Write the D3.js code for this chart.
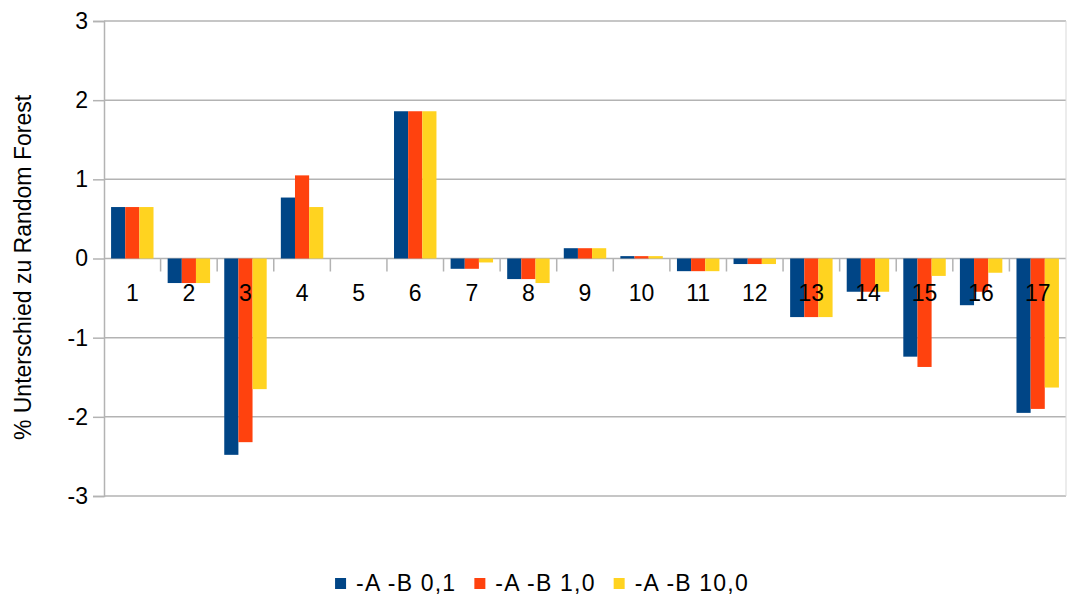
<!DOCTYPE html>
<html>
<head>
<meta charset="utf-8">
<script src="https://cdn.jsdelivr.net/npm/d3@7"></script>
<style>
  html, body { margin: 0; padding: 0; background: #fff; }
  svg { display: block; font-family: "Liberation Sans", Arial, sans-serif; }
</style>
</head>
<body>
<svg id="chart" width="1071" height="599"></svg>
<script>
// Bar groups 1..17 and the three parameter settings
const categories = ["1","2","3","4","5","6","7","8","9","10","11","12","13","14","15","16","17"];
const seriesNames = ["-A -B 0,1", "-A -B 1,0", "-A -B 10,0"];
const seriesColors = ["#004586", "#ff420e", "#ffd320"];
const valuesB01  = [0.65, -0.31, -2.48, 0.77, 0, 1.86, -0.13, -0.26, 0.13, 0.03, -0.16, -0.07, -0.74, -0.42, -1.24, -0.59, -1.95];
const valuesB10  = [0.65, -0.31, -2.32, 1.05, 0, 1.86, -0.13, -0.26, 0.13, 0.03, -0.16, -0.07, -0.74, -0.42, -1.37, -0.42, -1.90];
const valuesB100 = [0.65, -0.31, -1.65, 0.65, 0, 1.86, -0.05, -0.31, 0.13, 0.03, -0.16, -0.07, -0.74, -0.42, -0.22, -0.18, -1.63];
const yTicks = [-3, -2, -1, 0, 1, 2, 3];
const yTickLabels = ["-3", "-2", "-1", "0", "1", "2", "3"];
const yTitle = "% Unterschied zu Random Forest";

const series = [valuesB01, valuesB10, valuesB100];

const svg = d3.select("#chart");
const plotLeft = 104, plotRight = 1066, plotTop = 21, plotBottom = 496;

const y = d3.scaleLinear().domain([-3, 3]).range([plotBottom, plotTop]);
const x = d3.scaleBand().domain(categories).range([plotLeft, plotRight]).paddingInner(0.25).paddingOuter(0.125);
const xs = d3.scaleBand().domain(d3.range(series.length)).range([0, x.bandwidth()]);
const xGroup = d3.scaleBand().domain(categories).range([plotLeft, plotRight]);

const gridColor = "#b3b3b3";

// horizontal gridlines
svg.append("g")
  .selectAll("line")
  .data(yTicks)
  .join("line")
  .attr("x1", plotLeft).attr("x2", plotRight)
  .attr("y1", d => y(d)).attr("y2", d => y(d))
  .attr("stroke", gridColor).attr("stroke-width", 1.5);

// right border of the plot area
svg.append("line")
  .attr("x1", plotRight).attr("x2", plotRight).attr("y1", plotTop).attr("y2", plotBottom)
  .attr("stroke", "#d9d9d9").attr("stroke-width", 1);

// y axis
const yAxis = d3.axisLeft(y)
  .tickValues(yTicks)
  .tickSize(11)
  .tickPadding(5)
  .tickFormat((d, i) => yTickLabels[i]);
const gy = svg.append("g").attr("transform", `translate(${plotLeft},0)`).call(yAxis);
gy.select(".domain").attr("stroke", gridColor).attr("stroke-width", 1.5);
gy.selectAll(".tick line").attr("stroke", gridColor).attr("stroke-width", 1.5);
gy.selectAll(".tick text")
  .attr("font-family", "Liberation Sans, Arial, sans-serif")
  .attr("font-size", 23).attr("fill", "#000");

// bars
const groups = svg.append("g")
  .selectAll("g")
  .data(categories)
  .join("g")
  .attr("transform", d => `translate(${x(d)},0)`);

groups.selectAll("rect")
  .data((d, i) => series.map((s, k) => ({ k, v: s[i] })))
  .join("rect")
  .attr("x", d => xs(d.k))
  .attr("width", xs.bandwidth())
  .attr("y", d => y(Math.max(0, d.v)))
  .attr("height", d => Math.abs(y(d.v) - y(0)))
  .attr("fill", d => seriesColors[d.k]);

// category ticks on the zero line at group boundaries
svg.append("g")
  .selectAll("line")
  .data(categories.slice(1))
  .join("line")
  .attr("x1", d => xGroup(d)).attr("x2", d => xGroup(d))
  .attr("y1", y(0)).attr("y2", y(0) + 13)
  .attr("stroke", gridColor).attr("stroke-width", 1.5);

// category labels, drawn over the bars
svg.append("g")
  .selectAll("text")
  .data(categories)
  .join("text")
  .attr("x", d => xGroup(d) + xGroup.bandwidth() / 2)
  .attr("y", 301)
  .attr("text-anchor", "middle")
  .attr("font-size", 23)
  .attr("fill", "#000")
  .text(d => d);

// y axis title
svg.append("text")
  .attr("transform", `translate(31,${(90 + 445) / 2}) rotate(-90)`)
  .attr("text-anchor", "middle")
  .attr("font-size", 23)
  .attr("fill", "#000")
  .text(yTitle);

// legend
const legend = svg.append("g");
const items = legend.selectAll("g")
  .data(seriesNames)
  .join("g");
items.append("rect")
  .attr("width", 11).attr("height", 11)
  .attr("y", 578)
  .attr("fill", (d, i) => seriesColors[i]);
items.append("text")
  .attr("x", 21)
  .attr("y", 591)
  .attr("font-size", 23)
  .attr("letter-spacing", 1.2)
  .attr("fill", "#000")
  .text(d => d);
const gap = 18;
items.each(function () {
  const g = d3.select(this);
  const w = 21 + g.select("text").node().getComputedTextLength();
  g.attr("data-w", w);
});
const totalW = d3.sum(items.nodes(), n => +n.getAttribute("data-w")) + gap * (seriesNames.length - 1);
let cx = 542 - totalW / 2;
items.each(function () {
  d3.select(this).attr("transform", `translate(${cx},0)`);
  cx += +this.getAttribute("data-w") + gap;
});
</script>
</body>
</html>
